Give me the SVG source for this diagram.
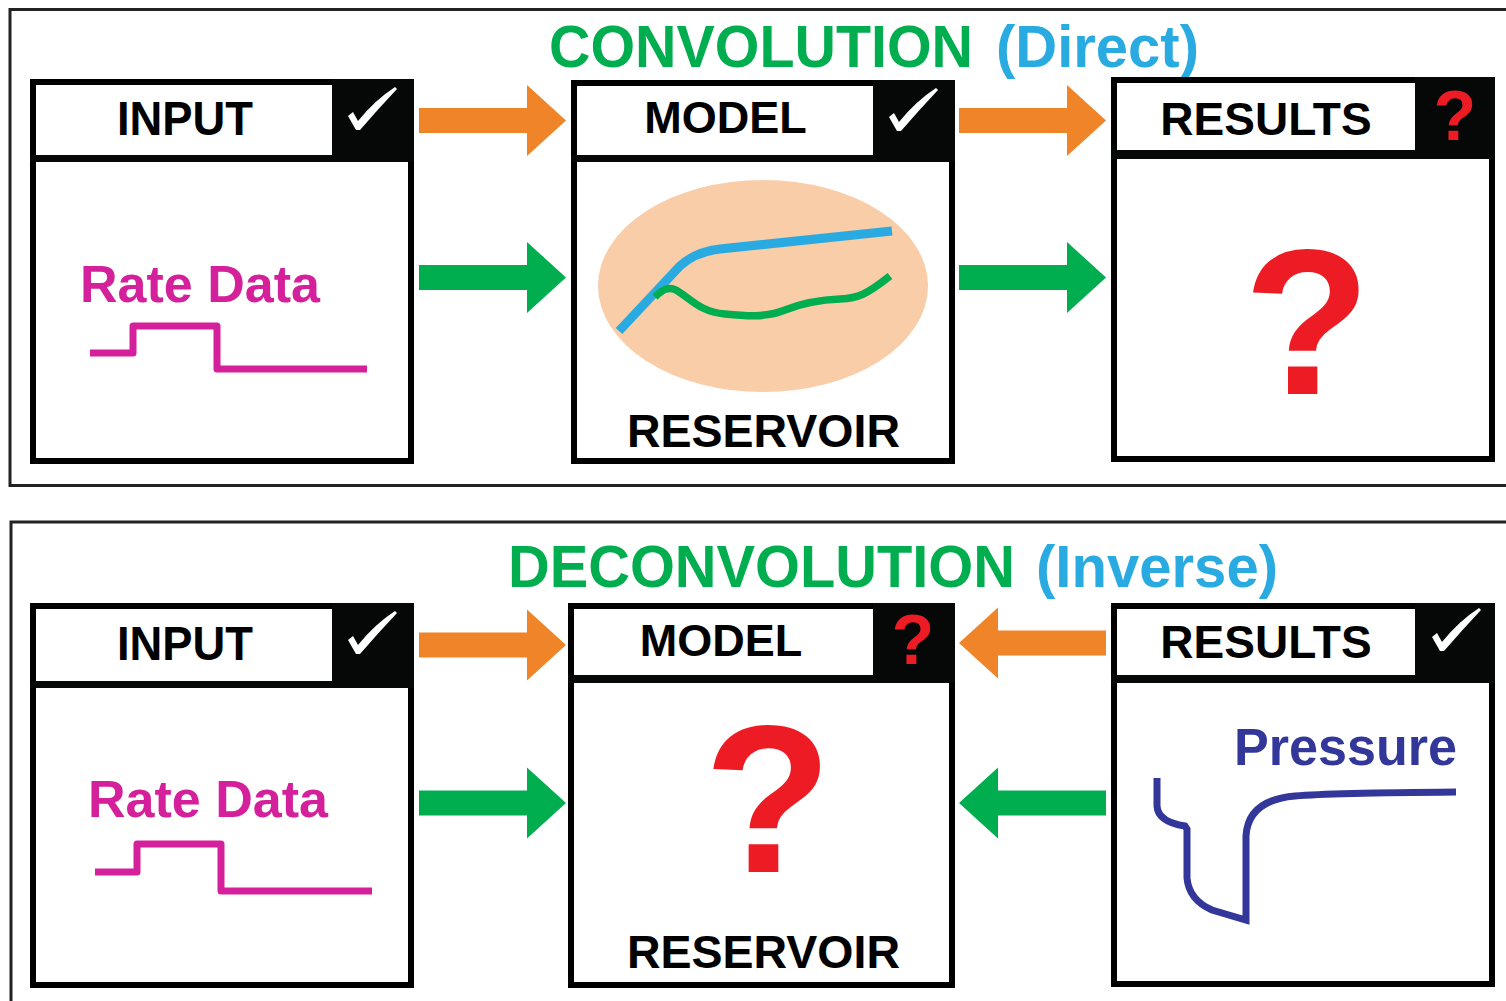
<svg xmlns="http://www.w3.org/2000/svg" xmlns:xlink="http://www.w3.org/1999/xlink" width="1506" height="1001" viewBox="0 0 1506 1001">
  <style>
    .frame { fill: none; stroke: #222; stroke-width: 3; }
    .box { fill: #fff; stroke: #000; stroke-width: 6; }
    .blk { fill: #060808; }
    .lbl { font-family: "Liberation Sans", Arial, sans-serif; font-weight: bold; fill: #000; }
    .title { font-family: "Liberation Sans", Arial, sans-serif; font-weight: bold; font-size: 60px; }
    .green { fill: #00AE4F; }
    .blue { fill: #29ABE2; }
    .orange { fill: #EF8428; }
    .red { fill: #ED1C24; font-family: "Liberation Sans", Arial, sans-serif; font-weight: bold; }
    .rate { fill: #D4209A; font-family: "Liberation Sans", Arial, sans-serif; font-weight: bold; font-size: 52px; }
    .step { fill: none; stroke: #D4209A; stroke-width: 7; stroke-linejoin: round; }
  </style>
  <defs>
    <!-- block arrow pointing right, origin at the tail centre -->
    <path id="arrow" d="M0,-12.5 H108 V-35.5 L147,0 L108,35.5 V12.5 H0 Z"/>
    <!-- white tick, origin at the top-left of its black badge -->
    <path id="tick" d="M16,37 L21,33 L26,42 Q43,21 63,8 L65,10 Q47,29 28,51 L24,51 Z" fill="#fff"/>
  </defs>

  <rect width="1506" height="1001" fill="#fff"/>

  <!-- panel frames -->
  <rect class="frame" x="10" y="9.5" width="1530" height="476"/>
  <rect class="frame" x="11" y="522" width="1530" height="520"/>

  <!-- panel titles -->
  <text class="title green" x="549" y="67" textLength="424" lengthAdjust="spacingAndGlyphs">CONVOLUTION</text>
  <text class="title blue" x="996" y="67" textLength="203" lengthAdjust="spacingAndGlyphs">(Direct)</text>
  <text class="title green" x="508" y="587" textLength="507" lengthAdjust="spacingAndGlyphs">DECONVOLUTION</text>
  <text class="title blue" x="1036" y="587" textLength="242" lengthAdjust="spacingAndGlyphs">(Inverse)</text>

  <!-- ===== Convolution row ===== -->
  <g id="conv-input">
    <rect class="box" x="33" y="82" width="378" height="379"/>
    <rect class="blk" x="30" y="155" width="384" height="7"/>
    <rect class="blk" x="332" y="79" width="82" height="83"/>
    <use href="#tick" transform="translate(332,79)"/>
    <text class="lbl" x="185" y="135" font-size="48" text-anchor="middle" textLength="136" lengthAdjust="spacingAndGlyphs">INPUT</text>
    <text class="rate" x="80" y="302">Rate Data</text>
    <path class="step" d="M90,353 H133 V326 H217 V369 H367"/>
  </g>

  <g id="conv-model">
    <rect class="box" x="574" y="83" width="378" height="378"/>
    <rect class="blk" x="571" y="155" width="384" height="7"/>
    <rect class="blk" x="873" y="80" width="82" height="82"/>
    <use href="#tick" transform="translate(873,80)"/>
    <text class="lbl" x="725.5" y="133" font-size="45" text-anchor="middle">MODEL</text>
    <ellipse cx="763" cy="286" rx="165" ry="106" fill="#F8CDA8"/>
    <path d="M619,331 L680,266 Q695,252 720,249 L892,231" fill="none" stroke="#29ABE2" stroke-width="9"/>
    <path d="M655,297 C662,290 668,286 676,290 C690,298 700,312 725,314 C745,316 765,318 785,310 C800,304 815,300 840,299 C858,298 866,295 890,276" fill="none" stroke="#00AE4F" stroke-width="7.5"/>
    <text class="lbl" x="763.5" y="447" font-size="46" text-anchor="middle" textLength="273" lengthAdjust="spacingAndGlyphs">RESERVOIR</text>
  </g>

  <g id="conv-results">
    <rect class="box" x="1114" y="80" width="378" height="379"/>
    <rect class="blk" x="1111" y="150" width="384" height="9"/>
    <rect class="blk" x="1415" y="77" width="80" height="82"/>
    <text class="red" x="1455" y="140" font-size="70" text-anchor="middle">?</text>
    <text class="lbl" x="1266" y="135" font-size="46" text-anchor="middle">RESULTS</text>
    <text class="red" x="1307" y="394" font-size="208" text-anchor="middle">?</text>
  </g>

  <!-- ===== Deconvolution row ===== -->
  <g id="deconv-input">
    <rect class="box" x="33" y="606" width="378" height="379"/>
    <rect class="blk" x="30" y="681" width="384" height="7"/>
    <rect class="blk" x="332" y="603" width="82" height="85"/>
    <use href="#tick" transform="translate(332,603)"/>
    <text class="lbl" x="185" y="660" font-size="48" text-anchor="middle" textLength="136" lengthAdjust="spacingAndGlyphs">INPUT</text>
    <text class="rate" x="88" y="817">Rate Data</text>
    <path class="step" d="M95,872 H137 V844 H221 V891 H372"/>
  </g>

  <g id="deconv-model">
    <rect class="box" x="571" y="606" width="381" height="379"/>
    <rect class="blk" x="568" y="675" width="387" height="8"/>
    <rect class="blk" x="873" y="603" width="82" height="80"/>
    <text class="red" x="913" y="664" font-size="70" text-anchor="middle">?</text>
    <text class="lbl" x="721" y="656" font-size="45" text-anchor="middle">MODEL</text>
    <text class="red" x="768" y="872" font-size="210" text-anchor="middle">?</text>
    <text class="lbl" x="763.5" y="968" font-size="46" text-anchor="middle" textLength="273" lengthAdjust="spacingAndGlyphs">RESERVOIR</text>
  </g>

  <g id="deconv-results">
    <rect class="box" x="1114" y="606" width="378" height="378"/>
    <rect class="blk" x="1111" y="675" width="384" height="8"/>
    <rect class="blk" x="1415" y="603" width="80" height="80"/>
    <use href="#tick" transform="translate(1416,600)"/>
    <text class="lbl" x="1266" y="658" font-size="46" text-anchor="middle">RESULTS</text>
    <text x="1234" y="765" font-family="Liberation Sans, Arial, sans-serif" font-weight="bold" font-size="51" fill="#33379A" textLength="223" lengthAdjust="spacingAndGlyphs">Pressure</text>
    <path d="M1157,778 V806 Q1158,822 1185,826 L1187,829 V878 Q1189,900 1212,910 L1246,920 V836 Q1248,800 1295,796 Q1330,793 1456,792" fill="none" stroke="#33379A" stroke-width="7"/>
  </g>

  <!-- connectors -->
  <g id="connectors">
    <use href="#arrow" class="orange" transform="translate(419,120.5)"/>
    <use href="#arrow" class="green" transform="translate(419,277.5)"/>
    <use href="#arrow" class="orange" transform="translate(959,120.5)"/>
    <use href="#arrow" class="green" transform="translate(959,277.5)"/>
    <use href="#arrow" class="orange" transform="translate(419,645)"/>
    <use href="#arrow" class="green" transform="translate(419,803)"/>
    <use href="#arrow" class="orange" transform="translate(1106,643) scale(-1,1)"/>
    <use href="#arrow" class="green" transform="translate(1106,803) scale(-1,1)"/>
  </g>
</svg>
